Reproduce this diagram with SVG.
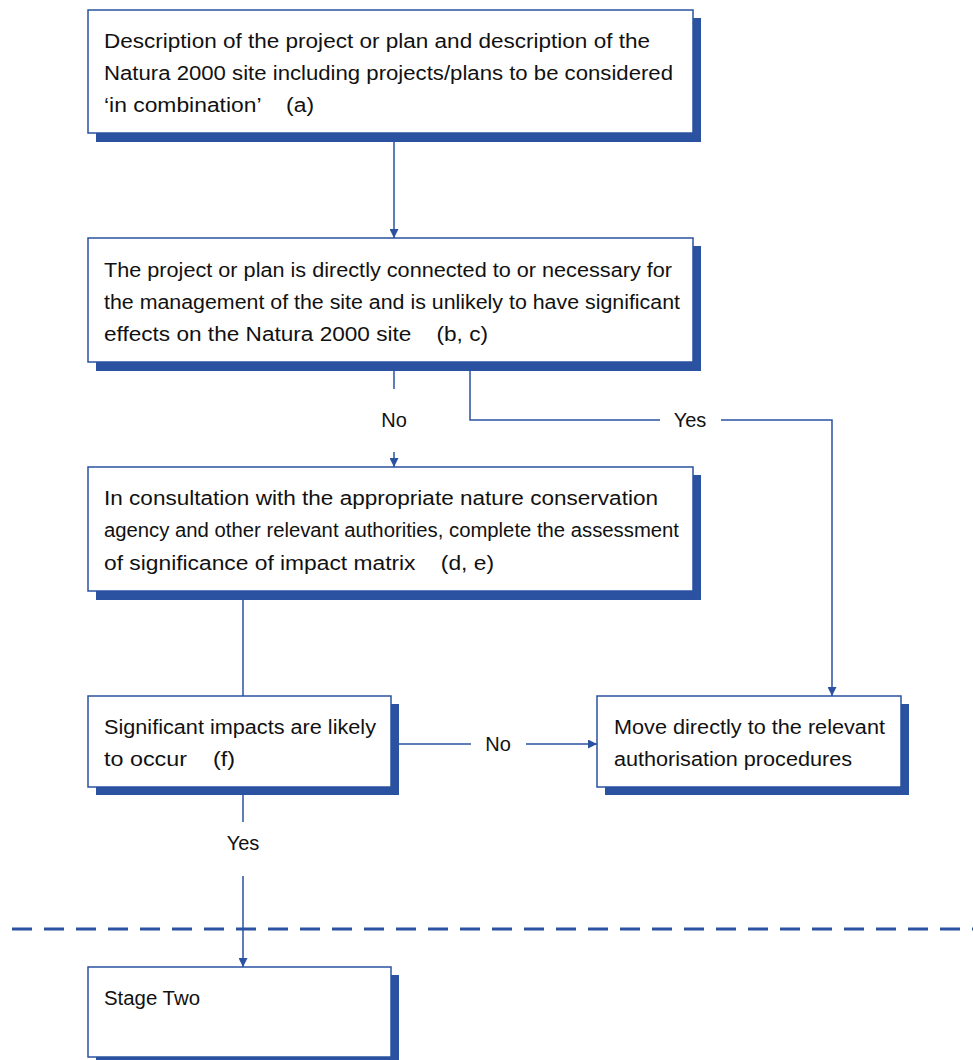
<svg xmlns="http://www.w3.org/2000/svg" width="973" height="1060" viewBox="0 0 973 1060">
<style>
.shadow{fill:#2a52a0}
.box{fill:#ffffff;stroke:#2a52a0;stroke-width:1.5}
.t{font-family:"Liberation Sans",Arial,sans-serif;font-size:20px;fill:#111111}
.lbl{font-family:"Liberation Sans",Arial,sans-serif;font-size:20px;fill:#111111;text-anchor:middle}
.c{fill:none;stroke:#2a52a0;stroke-width:1.5}
.dash{fill:none;stroke:#2a52a0;stroke-width:3;stroke-dasharray:20 12}
</style>
<defs>
<marker id="arr" viewBox="0 0 10 10" refX="10" refY="5" markerWidth="9" markerHeight="9" markerUnits="userSpaceOnUse" orient="auto">
<path d="M0,0 L10,5 L0,10 z" fill="#2a52a0"/>
</marker>
</defs>
<rect width="973" height="1060" fill="#ffffff"/>

<g id="connectors">
<line class="c" x1="394" y1="142" x2="394" y2="238" marker-end="url(#arr)"/>
<line class="c" x1="394" y1="371" x2="394" y2="389"/>
<line class="c" x1="394" y1="452" x2="394" y2="467" marker-end="url(#arr)"/>
<polyline class="c" points="470,371 470,420 660,420"/>
<polyline class="c" points="721,420 832,420 832,696" marker-end="url(#arr)"/>
<line class="c" x1="243" y1="600" x2="243" y2="696"/>
<line class="c" x1="399" y1="744" x2="471" y2="744"/>
<line class="c" x1="526" y1="744" x2="597" y2="744" marker-end="url(#arr)"/>
<line class="c" x1="243" y1="795" x2="243" y2="822"/>
<line class="c" x1="243" y1="876" x2="243" y2="967" marker-end="url(#arr)"/>
<line class="dash" x1="12" y1="929" x2="973" y2="929"/>
<text class="lbl" x="394" y="427">No</text>
<text class="lbl" x="690" y="427">Yes</text>
<text class="lbl" x="498" y="751">No</text>
<text class="lbl" x="243" y="850">Yes</text>
</g>

<g id="node1">
<rect class="shadow" x="96" y="18" width="605" height="124"/>
<rect class="box" x="88" y="10" width="605" height="123"/>
<text class="t" x="104" y="48" textLength="546" lengthAdjust="spacingAndGlyphs">Description of the project or plan and description of the</text>
<text class="t" x="104" y="80" textLength="569" lengthAdjust="spacingAndGlyphs">Natura 2000 site including projects/plans to be considered</text>
<text class="t" x="104" y="112" xml:space="preserve" textLength="210" lengthAdjust="spacingAndGlyphs">‘in combination’    (a)</text>
</g>

<g id="node2">
<rect class="shadow" x="96" y="246" width="605" height="125"/>
<rect class="box" x="88" y="238" width="605" height="124"/>
<text class="t" x="104" y="277" textLength="568" lengthAdjust="spacingAndGlyphs">The project or plan is directly connected to or necessary for</text>
<text class="t" x="104" y="309" textLength="576" lengthAdjust="spacingAndGlyphs">the management of the site and is unlikely to have significant</text>
<text class="t" x="104" y="341" xml:space="preserve" textLength="384" lengthAdjust="spacingAndGlyphs">effects on the Natura 2000 site    (b, c)</text>
</g>

<g id="node3">
<rect class="shadow" x="96" y="475" width="605" height="125"/>
<rect class="box" x="88" y="467" width="605" height="124"/>
<text class="t" x="104" y="505" textLength="554" lengthAdjust="spacingAndGlyphs">In consultation with the appropriate nature conservation</text>
<text class="t" x="104" y="537" textLength="575" lengthAdjust="spacingAndGlyphs">agency and other relevant authorities, complete the assessment</text>
<text class="t" x="104" y="570" xml:space="preserve" textLength="390" lengthAdjust="spacingAndGlyphs">of significance of impact matrix    (d, e)</text>
</g>

<g id="node4">
<rect class="shadow" x="96" y="704" width="303" height="91"/>
<rect class="box" x="88" y="696" width="303" height="91"/>
<text class="t" x="104" y="734" textLength="272" lengthAdjust="spacingAndGlyphs">Significant impacts are likely</text>
<text class="t" x="104" y="766" xml:space="preserve" textLength="131" lengthAdjust="spacingAndGlyphs">to occur    (f)</text>
</g>

<g id="node5">
<rect class="shadow" x="605" y="704" width="304" height="91"/>
<rect class="box" x="597" y="696" width="304" height="91"/>
<text class="t" x="614" y="734" textLength="271" lengthAdjust="spacingAndGlyphs">Move directly to the relevant</text>
<text class="t" x="614" y="766" textLength="238" lengthAdjust="spacingAndGlyphs">authorisation procedures</text>
</g>

<g id="node6">
<rect class="shadow" x="96" y="975" width="303" height="91"/>
<rect class="box" x="88" y="967" width="303" height="90"/>
<text class="t" x="104" y="1005" textLength="96" lengthAdjust="spacingAndGlyphs">Stage Two</text>
</g>
</svg>
